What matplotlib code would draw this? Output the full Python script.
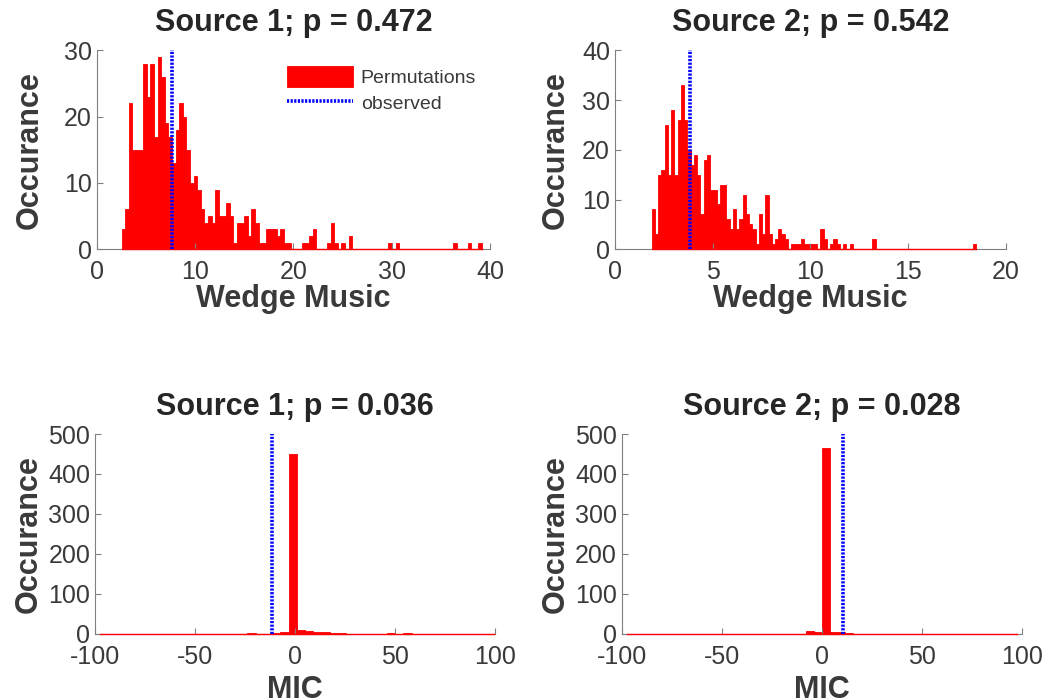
import numpy as np
import matplotlib.pyplot as plt

# permutation histograms (counts per bin)
wedge1_lo, wedge1_width = 2.5, 0.367
wedge1_counts = [3, 6, 22, 15, 15, 15, 28, 23, 28, 17,
                 29, 26, 19, 17, 13, 18, 22, 20, 15, 10,
                 11, 9, 6, 4, 5, 4, 9, 5, 5, 7,
                 5, 1, 4, 4, 5, 2, 6, 4, 1, 1,
                 3, 3, 3, 2, 3, 1, 1, 0, 0, 0,
                 1, 1, 2, 3, 0, 0, 0, 1, 4, 1,
                 0, 1, 0, 2, 0, 0, 0, 0, 0, 0,
                 0, 0, 0, 0, 1, 0, 1, 0, 0, 0,
                 0, 0, 0, 0, 0, 0, 0, 0, 0, 0,
                 0, 0, 1, 0, 0, 0, 1, 0, 0, 1]
wedge1_obs = 7.63

wedge2_lo, wedge2_width = 1.88, 0.166
wedge2_counts = [8, 3, 15, 16, 25, 15, 28, 15, 26, 33,
                 26, 20, 17, 19, 15, 7, 18, 19, 12, 12,
                 9, 13, 13, 6, 4, 8, 4, 6, 11, 7,
                 5, 4, 1, 7, 3, 11, 3, 1, 2, 4,
                 3, 2, 0, 1, 1, 1, 2, 1, 1, 1,
                 1, 0, 4, 2, 0, 1, 2, 1, 0, 1,
                 0, 1, 0, 0, 0, 0, 0, 0, 2, 0,
                 0, 0, 0, 0, 0, 0, 0, 0, 0, 0,
                 0, 0, 0, 0, 0, 0, 0, 0, 0, 0,
                 0, 0, 0, 0, 0, 0, 0, 0, 0, 1]
wedge2_obs = 3.84

mic1_lo, mic1_width = -97.6, 4.1
mic1_counts = [1, 0, 0, 0, 0, 0, 0, 0, 0, 0,
               0, 0, 0, 0, 1, 0, 1, 0, 2, 1,
               1, 2, 4, 450, 10, 7, 5, 4, 2, 2,
               1, 1, 0, 1, 1, 2, 0, 2, 0, 0,
               0, 0, 0, 0, 0, 0, 0, 0]
mic1_obs = -11.7

mic2_lo, mic2_width = -97.7, 3.9
mic2_counts = [1, 0, 0, 0, 0, 0, 0, 0, 0, 0,
               0, 0, 0, 1, 0, 0, 0, 0, 0, 0,
               1, 0, 1, 8, 4, 466, 5, 4, 2, 1,
               0, 1, 0, 0, 0, 1, 1, 0, 0, 1,
               0, 0, 1, 0, 0, 0, 0, 0, 0, 0]
mic2_obs = 10.2

titles = ["Source 1; p = 0.472", "Source 2; p = 0.542",
          "Source 1; p = 0.036", "Source 2; p = 0.028"]
xlabels = ["Wedge Music", "Wedge Music", "MIC", "MIC"]

TXT = '#3a3a3a'
AX = '#808080'
plt.rcParams['font.family'] = ['Liberation Sans', 'DejaVu Sans']
plt.rcParams['axes.unicode_minus'] = False


def draw_hist(ax, lo, width, counts, obs, title, xlabel, xlim, xticks, ylim, yticks,
              ypad, xpad):
    counts = np.array(counts)
    edges = lo + width * np.arange(len(counts))
    bars = ax.bar(edges, counts, width=width, align='edge', color='#ff0000',
                  edgecolor='#ff0000', linewidth=0.6, label='Permutations')
    # red baseline where bins are empty (drawn over the axis line)
    ax.plot([edges[0], min(edges[-1] + width, xlim[1])], [0, 0], color='#ff0000',
            lw=1.0, zorder=3, clip_on=False)
    line, = ax.plot([obs, obs], [ylim[0], ylim[1]], color='#0000ff', lw=2.6,
                    linestyle=(0, (0.6, 0.4)), label='observed', zorder=4)
    ax.set_xlim(*xlim)
    ax.set_ylim(*ylim)
    ax.set_xticks(xticks)
    ax.set_yticks(yticks)
    ax.set_title(title, fontsize=22, fontweight='bold', color='#262626', pad=14)
    ax.set_xlabel(xlabel, fontsize=22, fontweight='bold', color=TXT, labelpad=xpad)
    ax.set_ylabel('Occurance', fontsize=22, fontweight='bold', color=TXT, labelpad=ypad)
    for s in ['top', 'right']:
        ax.spines[s].set_visible(False)
    for s in ['left', 'bottom']:
        ax.spines[s].set_color(AX)
    ax.tick_params(direction='in', length=4, colors=AX, labelcolor=TXT, labelsize=18)
    ax.tick_params(axis='x', pad=8)
    return bars, line


fig = plt.figure(figsize=(10.45, 7), dpi=100)
ax1 = fig.add_axes([0.0928, 0.644, 0.376, 0.284])
ax2 = fig.add_axes([0.5885, 0.644, 0.374, 0.284])
ax3 = fig.add_axes([0.0909, 0.0943, 0.383, 0.2857])
ax4 = fig.add_axes([0.5952, 0.0943, 0.383, 0.2857])

bars, line = draw_hist(ax1, wedge1_lo, wedge1_width, wedge1_counts, wedge1_obs, titles[0], xlabels[0],
                       (0, 40), [0, 10, 20, 30, 40], (0, 30), [0, 10, 20, 30], 14, 0)
draw_hist(ax2, wedge2_lo, wedge2_width, wedge2_counts, wedge2_obs, titles[1], xlabels[1],
          (0, 20), [0, 5, 10, 15, 20], (0, 40), [0, 10, 20, 30, 40], 8, 0)
draw_hist(ax3, mic1_lo, mic1_width, mic1_counts, mic1_obs, titles[2], xlabels[2],
          (-100, 100), [-100, -50, 0, 50, 100], (0, 500), [0, 100, 200, 300, 400, 500], 3, 4)
draw_hist(ax4, mic2_lo, mic2_width, mic2_counts, mic2_obs, titles[3], xlabels[3],
          (-100, 100), [-100, -50, 0, 50, 100], (0, 500), [0, 100, 200, 300, 400, 500], 3, 4)

leg = ax1.legend(handles=[bars, line], loc='upper right', bbox_to_anchor=(0.985, 0.96),
                 frameon=False, fontsize=14, handlelength=3.4, handleheight=1.3,
                 handletextpad=0.4, labelspacing=0.25, borderaxespad=0)
for t in leg.get_texts():
    t.set_color(TXT)

fig.savefig('out.png', dpi=100)
